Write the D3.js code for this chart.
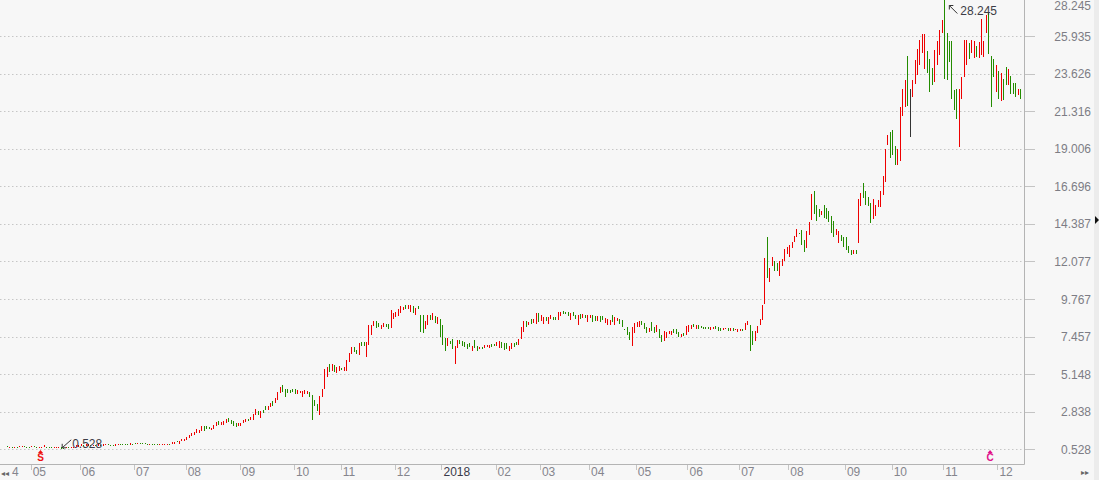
<!DOCTYPE html>
<html><head><meta charset="utf-8">
<script src="https://cdn.jsdelivr.net/npm/d3@7"></script>
<style>html,body{margin:0;padding:0;background:#f7f7f7;overflow:hidden}svg{display:block}</style>
</head><body><svg id="c" width="1099" height="480"></svg>
<script>
// Daily candles, 2017-04 .. 2018-12 (open / close)
const opens = [
0.72,0.66,0.68,0.67,0.68,0.66,0.70,0.74,0.70,0.69,
0.64,0.72,0.70,0.66,0.68,0.64,0.70,0.68,0.66,0.62,
0.64,0.60,0.70,0.62,0.58,0.64,0.60,0.62,0.66,0.70,
0.72,0.80,0.74,0.76,0.82,0.76,0.80,0.76,0.82,0.76,
0.78,0.84,0.80,0.78,0.76,0.78,0.86,0.84,0.86,0.84,
0.82,0.88,0.92,0.86,0.92,0.90,0.90,0.88,0.84,0.88,
0.86,0.84,0.80,0.78,0.78,0.80,0.86,0.84,0.88,1.04,
0.85,1.01,1.03,1.11,1.21,1.34,1.42,1.54,1.50,1.66,
1.95,1.95,1.87,1.70,1.79,1.95,2.28,2.03,2.03,2.12,
2.44,2.36,2.28,2.12,1.95,1.95,2.12,2.20,2.40,2.32,
2.32,2.65,2.86,2.45,2.93,3.18,2.93,3.15,3.51,3.35,
3.55,3.96,4.49,4.25,4.25,4.17,4.25,4.25,3.92,3.96,
3.72,3.92,3.92,4.05,3.84,3.55,3.30,2.61,3.72,4.24,
4.98,5.76,5.35,5.72,5.19,5.35,5.55,5.35,5.35,5.89,
6.38,6.79,6.66,6.35,7.12,7.15,6.22,6.95,7.57,8.10,
8.39,8.27,7.90,8.02,8.22,8.22,7.98,8.51,8.64,8.72,
8.92,9.09,9.37,9.15,9.00,9.33,8.80,9.33,8.80,8.76,
7.90,8.15,8.80,8.47,8.72,8.22,8.51,8.18,7.36,6.91,
7.20,7.32,5.76,6.75,7.24,7.16,7.12,7.00,7.08,6.58,
7.25,6.87,6.67,6.83,6.75,6.79,6.75,7.00,7.00,6.87,
6.75,7.12,7.08,7.06,6.55,6.67,7.08,7.10,6.95,7.28,
7.73,8.39,8.18,8.55,8.27,8.22,8.88,8.43,8.22,8.67,
8.22,8.51,8.67,8.67,8.47,8.72,9.04,8.95,8.96,8.47,
8.95,8.80,8.18,8.84,8.62,8.80,8.35,8.60,8.76,8.72,
8.40,8.72,8.72,8.30,8.18,8.15,8.76,8.18,8.40,8.55,
8.47,7.94,8.02,7.77,6.87,7.65,8.02,8.06,8.39,8.27,
8.02,7.73,8.35,8.02,7.73,7.90,7.57,7.20,7.35,7.61,
7.57,7.90,7.94,7.77,7.44,7.65,7.53,7.77,7.90,8.22,
7.90,8.15,8.10,8.05,8.05,8.06,7.86,7.90,8.10,8.06,
8.00,7.85,7.90,8.00,7.80,7.98,7.85,7.75,7.80,7.95,
7.86,8.18,8.14,7.81,7.20,7.65,8.15,8.47,9.45,13.59,
10.81,11.79,12.08,11.99,11.18,11.79,12.08,12.53,12.33,12.90,
13.27,13.56,13.84,14.00,13.39,12.90,13.72,14.62,16.38,15.56,
15.28,14.95,15.56,15.36,15.15,14.87,14.54,13.72,13.23,13.72,
13.59,13.56,13.02,12.78,12.55,12.80,13.22,15.48,16.88,16.42,
16.05,15.68,14.70,14.90,15.40,15.44,16.14,16.95,19.25,20.03,
20.15,19.17,18.02,18.27,21.02,21.59,24.71,22.10,22.20,22.98,
23.52,24.17,24.91,23.92,25.03,24.50,24.00,23.10,24.15,24.77,
26.12,28.245,26.12,25.65,25.65,22.60,22.70,19.13,22.06,23.43,
24.17,25.52,24.88,24.58,25.32,24.58,24.75,24.66,26.10,27.41,
24.71,24.50,22.49,23.78,21.94,23.30,24.01,22.90,23.50,23.06,
23.03,22.33,22.70
];
const closes = [
0.66,0.68,0.67,0.68,0.66,0.74,0.76,0.70,0.69,0.68,
0.74,0.70,0.68,0.68,0.70,0.78,0.69,0.66,0.63,0.66,
0.68,0.70,0.528,0.58,0.64,0.60,0.70,0.70,0.78,0.80,
0.84,0.74,0.84,0.84,0.78,0.82,0.78,0.84,0.76,0.84,
0.86,0.80,0.78,0.76,0.86,0.88,0.84,0.82,0.82,0.82,
0.90,0.84,0.86,0.94,0.88,0.86,0.84,0.84,0.88,0.82,
0.80,0.80,0.86,0.86,0.86,0.86,0.82,0.96,1.00,0.96,
1.05,1.18,1.17,1.26,1.38,1.50,1.58,1.75,1.70,1.95,
1.66,1.79,1.75,1.83,2.03,2.20,2.00,2.20,2.28,2.40,
2.20,2.07,1.95,1.91,2.15,2.17,2.32,2.40,2.24,2.53,
2.69,2.98,2.65,2.86,2.73,2.93,3.18,3.35,3.18,3.67,
4.04,4.37,4.08,3.72,3.96,3.96,4.04,3.90,4.17,4.09,
4.12,4.17,4.09,3.76,2.32,3.18,2.89,3.79,4.25,5.47,
5.56,5.27,5.76,5.27,5.60,5.64,5.40,5.60,6.01,6.43,
6.83,6.50,6.40,7.08,6.90,6.85,7.12,8.18,8.18,8.43,
7.98,8.06,8.18,8.30,8.06,7.90,9.09,8.88,8.96,9.16,
9.33,9.29,9.13,9.40,9.37,8.92,9.21,9.13,7.73,7.69,
8.43,8.80,8.47,8.88,8.27,8.64,7.41,6.95,6.58,7.36,
7.00,6.71,6.91,7.24,7.00,6.87,6.79,6.71,6.79,6.91,
6.75,6.58,6.83,6.71,6.95,6.95,6.95,6.83,6.85,7.12,
7.16,6.75,6.63,6.70,6.91,7.04,6.83,6.95,7.32,8.06,
8.39,8.06,8.35,8.22,8.55,8.92,8.35,8.76,8.67,8.40,
8.67,8.80,8.47,8.50,8.96,9.00,8.84,8.82,8.72,8.88,
8.75,8.55,8.76,8.55,8.84,8.62,8.80,8.80,8.35,8.43,
8.72,8.35,8.45,8.59,8.55,8.47,8.35,8.64,8.60,8.22,
8.06,7.86,7.53,7.24,8.06,8.27,8.35,8.39,8.18,7.94,
7.65,7.98,7.82,7.70,8.15,7.36,7.12,7.81,7.75,7.81,
7.81,7.69,7.61,7.44,7.61,7.50,8.10,8.18,8.18,8.06,
8.18,7.95,7.98,7.90,7.92,7.90,8.06,8.05,7.90,7.81,
7.80,8.00,8.00,7.80,8.00,7.81,7.95,7.95,7.95,7.80,
8.30,8.43,6.58,6.95,7.81,8.10,8.51,9.41,12.28,11.05,
11.67,12.36,11.46,11.50,12.12,12.20,12.86,12.98,13.10,13.27,
13.64,14.09,13.75,13.10,12.65,13.93,14.50,16.22,14.99,14.58,
14.79,15.19,14.74,14.66,14.50,13.84,13.56,14.09,13.93,13.31,
12.98,12.78,12.61,12.49,12.80,12.55,15.93,16.30,15.97,15.56,
15.48,14.42,15.93,15.55,15.85,16.42,17.33,19.00,19.87,18.43,
18.60,18.02,19.00,21.55,22.70,23.23,21.63,22.10,23.23,24.46,
25.12,25.69,26.06,26.06,23.64,22.50,22.90,25.10,25.63,26.30,
26.92,23.29,23.23,24.34,22.04,21.40,20.85,22.70,23.41,25.69,
25.69,24.54,25.69,25.61,24.63,25.57,26.96,25.61,27.21,24.83,
21.55,23.40,24.15,22.08,23.66,22.00,22.90,23.90,22.40,22.37,
22.20,22.70,22.09
];
// extra shadow for the one flat (doji) day
const dojiDay = 367, dojiHigh = 22.70, dojiLow = 19.74;

const yTickValues = [0.528,2.838,5.148,7.457,9.767,12.077,14.387,16.696,19.006,21.316,23.626,25.935,28.245];
const monthLabels = ["05","06","07","08","09","10","11","12","2018","02","03","04","05","06","07","08","09","10","11","12"];
const monthStartDay = [10,30,52,73,95,117,136,158,177,199,217,237,256,277,298,318,341,360,381,403];
const maxLabel = "28.245", minLabel = "0.528";

const W = 1099, H = 480;
const plotRight = 1024, plotBottom = 464;
const svg = d3.select("#c");
svg.append("rect").attr("width",W).attr("height",H).attr("fill","#f7f7f7");
svg.append("rect").attr("x",1094).attr("width",5).attr("height",H).attr("fill","#ececec");

const n = opens.length;
const x = d3.scaleBand().domain(d3.range(n)).range([6.07, 6.07 + n*2.46]).padding(0);
const y = d3.scaleLinear().domain([0.528, 28.245]).range([449.3, -1.5]);

// grid
svg.append("g").selectAll("line").data(yTickValues).join("line")
  .attr("x1",0).attr("x2",plotRight)
  .attr("y1",d=>Math.round(y(d))+0.5).attr("y2",d=>Math.round(y(d))+0.5)
  .attr("stroke","#c6c6c6").attr("stroke-width",1).attr("stroke-dasharray","1.5,2.5");

// candles
const up = "#ee0000", down = "#238c00", flat = "#333333";
const cg = svg.append("g").attr("shape-rendering","crispEdges");
cg.selectAll("rect").data(d3.range(n)).join("rect")
  .attr("x", i => Math.round(x(i) + x.bandwidth()/2 - 0.5))
  .attr("width", 1)
  .attr("y", i => {
    const hi = i === dojiDay ? dojiHigh : Math.max(opens[i], closes[i]);
    return y(hi);
  })
  .attr("height", i => {
    const hi = i === dojiDay ? dojiHigh : Math.max(opens[i], closes[i]);
    const lo = i === dojiDay ? dojiLow : Math.min(opens[i], closes[i]);
    return Math.max(1, y(lo) - y(hi));
  })
  .attr("fill", i => closes[i] > opens[i] ? up : (closes[i] < opens[i] ? down : flat));

// axes frame
svg.append("line").attr("x1",0).attr("x2",plotRight+0.5).attr("y1",plotBottom+0.5).attr("y2",plotBottom+0.5).attr("stroke","#b4b4b4");
svg.append("line").attr("x1",plotRight+0.5).attr("x2",plotRight+0.5).attr("y1",0).attr("y2",plotBottom+0.5).attr("stroke","#b4b4b4");

// right axis
const ra = svg.append("g");
ra.selectAll("line").data(yTickValues).join("line")
  .attr("x1",plotRight+1).attr("x2",plotRight+11)
  .attr("y1",d=>Math.round(y(d))+0.5).attr("y2",d=>Math.round(y(d))+0.5)
  .attr("stroke","#c4c4c4");
ra.selectAll("text").data(yTickValues).join("text")
  .attr("x",1091).attr("y",d=>Math.max(y(d)+4.5, 10))
  .attr("text-anchor","end").attr("font-family","Liberation Sans, Arial, sans-serif")
  .attr("font-size",12).attr("fill","#7d7d85")
  .text(d=>d.toFixed(3));

// bottom axis
const ba = svg.append("g");
ba.selectAll("line").data(monthStartDay).join("line")
  .attr("x1",d=>Math.round(x(d))+0.5).attr("x2",d=>Math.round(x(d))+0.5)
  .attr("y1",plotBottom+1).attr("y2",plotBottom+6)
  .attr("stroke","#c4c4c4");
ba.selectAll("text").data(monthStartDay).join("text")
  .attr("x",d=>x(d)+2).attr("y",476)
  .attr("font-family","Liberation Sans, Arial, sans-serif").attr("font-size",12)
  .attr("fill",(d,k)=>monthLabels[k].length===4 ? "#3a3a4a" : "#85858d")
  .text((d,k)=>monthLabels[k]);
svg.append("text").attr("x",1).attr("y",476).attr("font-family","DejaVu Sans, sans-serif").attr("font-size",8).attr("fill","#666").text("◂◂");
svg.append("text").attr("x",12).attr("y",476).attr("font-family","Liberation Sans, Arial, sans-serif").attr("font-size",12).attr("fill","#85858d").text("4");
svg.append("text").attr("x",1081).attr("y",475).attr("font-family","DejaVu Sans, sans-serif").attr("font-size",8).attr("fill","#666").text("▸▸");

// max / min annotations
const iMax = d3.maxIndex(opens.map((o,i)=>Math.max(o,closes[i])));
const iMin = d3.minIndex(opens.map((o,i)=>Math.min(o,closes[i])));
const ann = svg.append("g").attr("font-family","Liberation Sans, Arial, sans-serif").attr("font-size",12).attr("fill","#3c3c46");
{
  const ax = x(iMax) + 6, ay = y(28.245) + 7;
  ann.append("path").attr("d",`M${ax+8},${ay+8}L${ax},${ay}M${ax},${ay}l0,4M${ax},${ay}l4,0`).attr("stroke","#333").attr("fill","none");
  ann.append("text").attr("x",ax+11).attr("y",ay+9.5).text(maxLabel);
}
{
  const bx = x(iMin) + 2, by = y(0.528) - 1.5;
  ann.append("path").attr("d",`M${bx+9},${by-8}L${bx},${by}M${bx},${by}l0,-4M${bx},${by}l4,0`).attr("stroke","#333").attr("fill","none");
  ann.append("text").attr("x",bx+10).attr("y",by).text(minLabel);
}

// event markers
function marker(i, ch, col){
  const cx = x(i);
  svg.append("path").attr("d",`M${cx-2.5},${453}L${cx},${450}L${cx+2.5},${453}Z`).attr("fill",col);
  svg.append("text").attr("x",cx).attr("y",461).attr("text-anchor","middle")
    .attr("font-family","Liberation Sans, Arial, sans-serif").attr("font-weight","bold").attr("font-size",10).attr("fill",col).text(ch);
}
marker(14, "S", "#ee1111");
marker(400, "C", "#e0108a");

// last price pointer
svg.append("path").attr("d","M1095,216L1099,220L1095,224Z").attr("fill","#111");
</script></body></html>
